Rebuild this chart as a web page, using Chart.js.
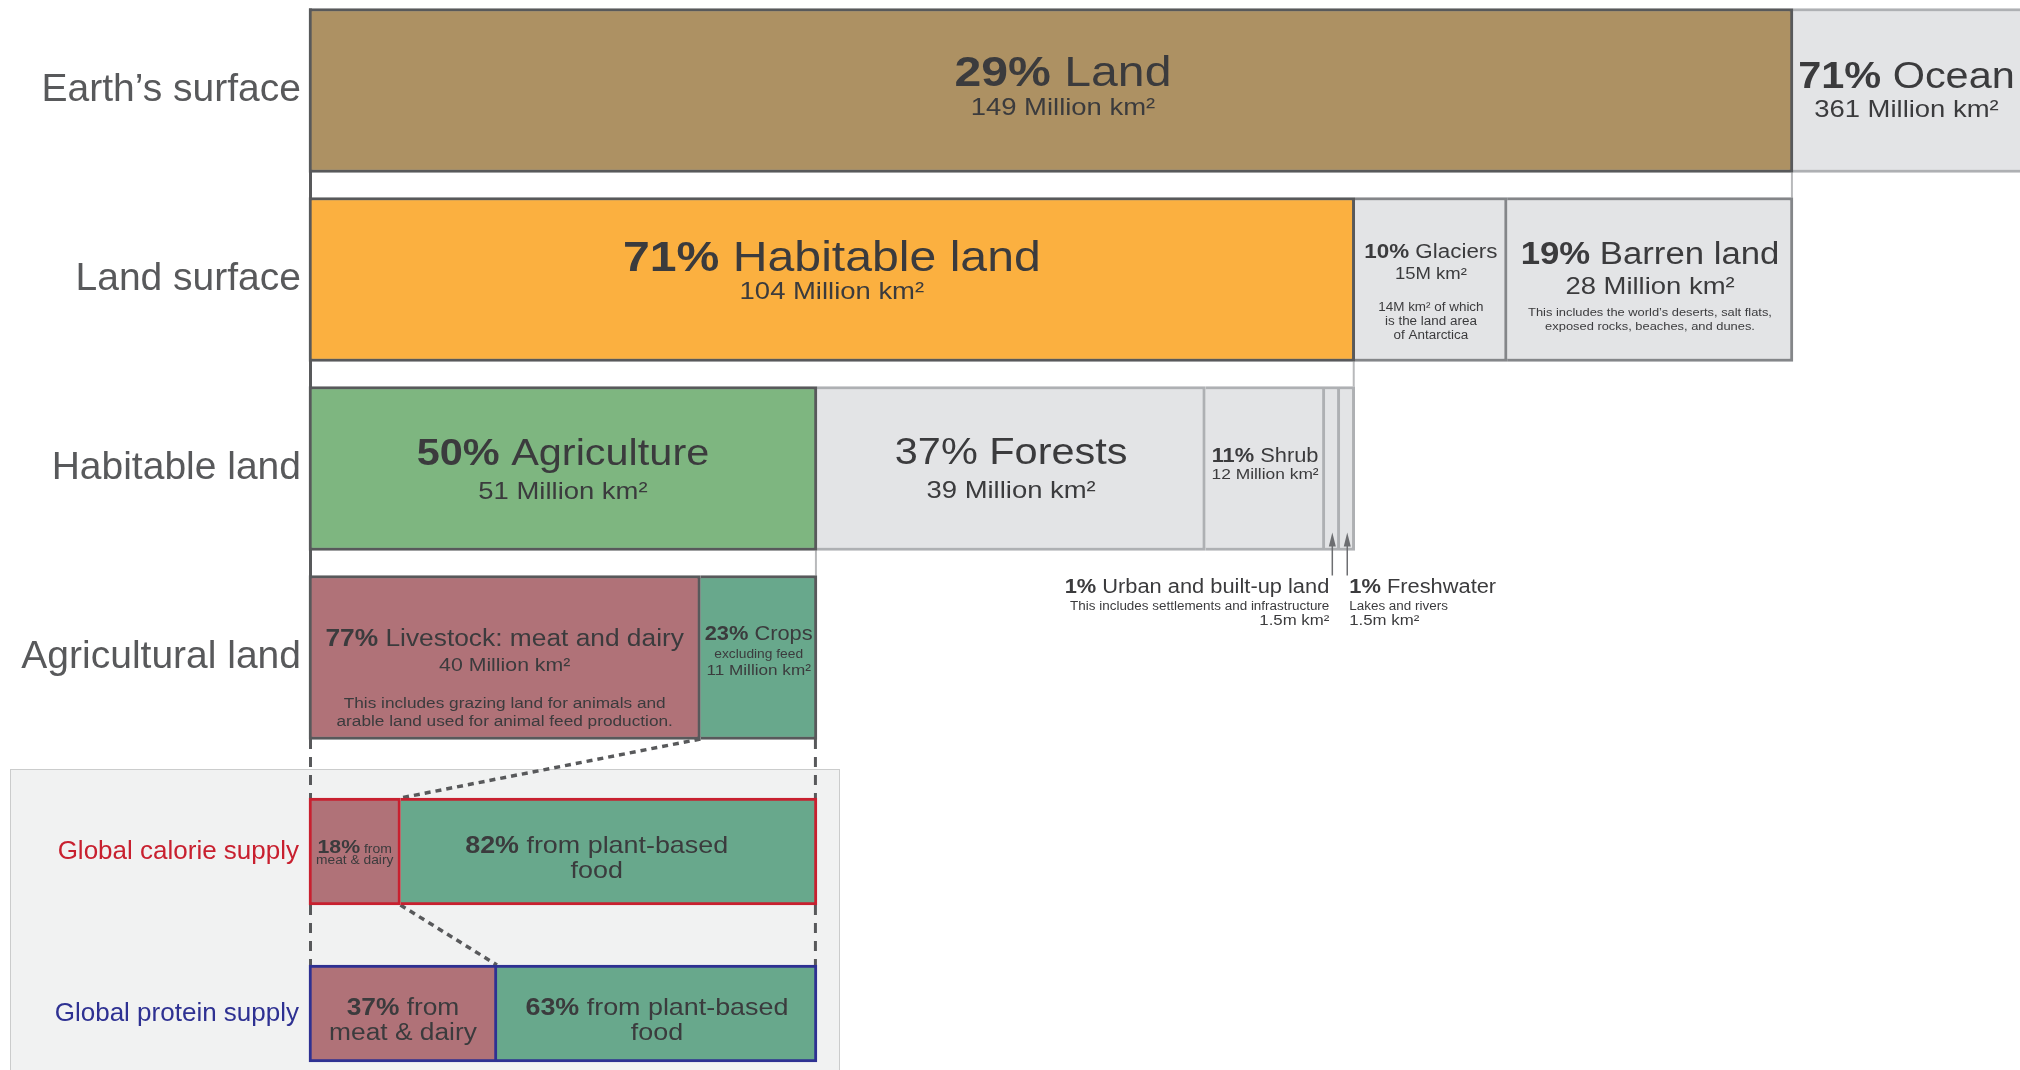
<!DOCTYPE html>
<html>
<head>
<meta charset="utf-8">
<title>Global land use for food production</title>
<script src="https://cdn.jsdelivr.net/npm/chart.js@4.4.1/dist/chart.umd.min.js"></script>
<style>
    html, body { margin: 0; padding: 0; background: #fff; overflow: hidden; }
    #page { position: relative; width: 2020px; height: 1070px; overflow: hidden; }
    #landChart { position: absolute; left: 0; top: -4px; }
    #supplyBox { position: absolute; left: 10px; top: 769px; width: 828px; height: 320px; background: #f1f2f2; border: 1px solid #cbcccc; }
    #supplyChart { position: absolute; left: 0; top: 739px; }
</style>
</head>
<body>
<div id="page">
    <canvas id="landChart" width="2020" height="756"></canvas>
    <div id="supplyBox"></div>
    <canvas id="supplyChart" width="2020" height="331"></canvas>
</div>
<script>
var landRows = ["Earth’s surface", "Land surface", "Habitable land", "Agricultural land"];

// million km²
var earthSurface = [149, 361];              // land, ocean
var landSurface = [105, 15.3, 28.7];        // habitable, glaciers, barren
var habitableLand = [51, 39, 12, 1.5, 1.5]; // agriculture, forests, shrub, urban, freshwater
var agriculturalLand = [39.3, 11.7];        // livestock, crops

// bottom panel, % of supply
var supplyRows = ["Global calorie supply", "Global protein supply"];
var calorieShare = [18, 82];                // meat & dairy, plant-based
var proteinShare = [37, 63];

var X_MAX = 171.8;
var FONT = "'Liberation Sans', Arial, sans-serif";
var SX = 1.12; // lettering in the original is a bit wider than Liberation Sans

var DARK = "#58595b", MID = "#848689", PALE = "#aeb0b3";
var GREY = "#e3e4e6", BROWN = "#ad9163", ORANGE = "#fbb040", GREEN = "#7eb680";
var ROSE = "#b07278", TEAL = "#68a88c", RED = "#c8202f", BLUE = "#2e3192";
var TEXT = "#3b3b3d";

Chart.defaults.font.family = FONT;

var agriTotal = agriculturalLand[0] + agriculturalLand[1];
function shareToArea(p) { return p / 100 * agriTotal; }

function L(dy, parts) { return { dy: dy, parts: parts }; }

function fontOf(size, bold) { return (bold ? "bold " : "") + size + "px " + FONT; }

function drawParts(ctx, parts, x, y, align) {
    var w = 0;
    parts.forEach(function (p) { ctx.font = fontOf(p[2], p[1]); w += ctx.measureText(p[0]).width * SX; });
    var sx = align === "left" ? x : (align === "right" ? x - w : x - w / 2);
    parts.forEach(function (p) {
        ctx.font = fontOf(p[2], p[1]);
        ctx.save();
        ctx.translate(sx, y);
        ctx.scale(SX, 1);
        ctx.textAlign = "left";
        ctx.textBaseline = "alphabetic";
        ctx.fillText(p[0], 0, 0);
        ctx.restore();
        sx += ctx.measureText(p[0]).width * SX;
    });
}

function stackedSets(rowCount, segments) {
    return segments.map(function (s) {
        var data = [];
        for (var i = 0; i < rowCount; i++) data.push(i === s.row ? s.value : null);
        return {
            label: s.label,
            data: data,
            row: s.row,
            backgroundColor: s.fill,
            borderColor: s.stroke,
            borderWidth: { top: 3, bottom: 3, right: 3, left: s.first ? 3 : 0 },
            borderSkipped: false,
            barThickness: s.thickness,
            clip: false,
            text: s.text,
            dx: s.dx || 0,
            callout: s.callout
        };
    });
}

function barBox(chart, i, row) {
    var p = chart.getDatasetMeta(i).data[row].getProps(["x", "y", "base", "height"], true);
    return { left: p.base, right: p.x, top: p.y - p.height / 2, bottom: p.y + p.height / 2, y: p.y };
}

// text inside the segments, plus the two arrow callouts
var segmentLabels = {
    id: "segmentLabels",
    afterDatasetsDraw: function (chart) {
        var ctx = chart.ctx, area = chart.chartArea;
        chart.data.datasets.forEach(function (ds, i) {
            var b = barBox(chart, i, ds.row);
            ctx.save();
            ctx.fillStyle = TEXT;
            if (ds.text) {
                var cx = (b.left + Math.min(b.right, area.right)) / 2 + ds.dx;
                ds.text.forEach(function (line) { drawParts(ctx, line.parts, cx, b.y + line.dy, "center"); });
            }
            if (ds.callout) {
                var ax = (b.left + b.right) / 2;
                ctx.strokeStyle = "#6d6e71";
                ctx.fillStyle = "#6d6e71";
                ctx.lineWidth = 1.5;
                ctx.beginPath();
                ctx.moveTo(ax, b.bottom + 25);
                ctx.lineTo(ax, b.bottom - 8);
                ctx.stroke();
                ctx.beginPath();
                ctx.moveTo(ax, b.bottom - 18);
                ctx.lineTo(ax - 3.5, b.bottom - 4);
                ctx.lineTo(ax + 3.5, b.bottom - 4);
                ctx.closePath();
                ctx.fill();
                ctx.fillStyle = TEXT;
                ds.callout.lines.forEach(function (line) {
                    drawParts(ctx, line.parts, ax + ds.callout.dx, b.bottom + line.dy, ds.callout.align);
                });
            }
            ctx.restore();
        });
    }
};

// spine on the left and thin guides from each parent segment to the row below
var landConnectors = {
    id: "landConnectors",
    beforeDatasetsDraw: function (chart) {
        var ctx = chart.ctx, xs = chart.scales.x;
        var firstOfRow = [];
        chart.data.datasets.forEach(function (ds, i) { if (firstOfRow[ds.row] === undefined) firstOfRow[ds.row] = i; });
        var boxes = firstOfRow.map(function (i, r) { return barBox(chart, i, r); });
        ctx.save();
        ctx.strokeStyle = DARK;
        ctx.lineWidth = 3;
        var x0 = xs.getPixelForValue(0) + 1.5;
        ctx.beginPath();
        ctx.moveTo(x0, boxes[0].top);
        ctx.lineTo(x0, boxes[boxes.length - 1].bottom);
        ctx.stroke();
        var parents = [earthSurface[0], landSurface[0], habitableLand[0]];
        ctx.strokeStyle = "#b8b9bb";
        ctx.lineWidth = 2;
        parents.forEach(function (v, r) {
            var x = xs.getPixelForValue(v) - 1;
            ctx.beginPath();
            ctx.moveTo(x, boxes[r].bottom);
            ctx.lineTo(x, boxes[r + 1].top);
            ctx.stroke();
        });
        ctx.restore();
    }
};

// dashed zoom lines from agricultural land into the supply bars
var supplyConnectors = {
    id: "supplyConnectors",
    beforeDatasetsDraw: function (chart) {
        var ctx = chart.ctx, xs = chart.scales.x;
        var cal = barBox(chart, 0, 0), pro = barBox(chart, 2, 1);
        var x0 = xs.getPixelForValue(0) + 1.5, x1 = xs.getPixelForValue(agriTotal) - 1.5;
        var xLive = xs.getPixelForValue(agriculturalLand[0]);
        function seg(ax, ay, bx, by) { ctx.beginPath(); ctx.moveTo(ax, ay); ctx.lineTo(bx, by); ctx.stroke(); }
        ctx.save();
        ctx.strokeStyle = DARK;
        ctx.lineWidth = 3;
        ctx.setLineDash([10, 8]);
        [x0, x1].forEach(function (x) {
            seg(x, 0, x, cal.top);
            seg(x, cal.bottom, x, pro.top);
        });
        ctx.lineWidth = 3.5;
        ctx.setLineDash([6, 5]);
        seg(xLive, 0, cal.right, cal.top);
        seg(cal.right, cal.bottom, pro.right, pro.top);
        ctx.restore();
    }
};

var landSegments = [
    { label: "Land", row: 0, value: earthSurface[0], fill: BROWN, stroke: DARK, first: true, dx: 12,
      text: [L(-5, [["29%", 1, 43], [" Land", 0, 43]]), L(24, [["149 Million km²", 0, 24.5]])] },
    { label: "Ocean", row: 0, value: earthSurface[1], fill: GREY, stroke: PALE,
      text: [L(-3, [["71%", 1, 37], [" Ocean", 0, 37]]), L(26, [["361 Million km²", 0, 24.5]])] },
    { label: "Habitable land", row: 1, value: landSurface[0], fill: ORANGE, stroke: DARK, first: true,
      text: [L(-9, [["71%", 1, 43], [" Habitable land", 0, 43]]), L(19, [["104 Million km²", 0, 24.5]])] },
    { label: "Glaciers", row: 1, value: landSurface[1], fill: GREY, stroke: MID,
      text: [L(-22, [["10%", 1, 20], [" Glaciers", 0, 20]]), L(-1, [["15M km²", 0, 16.5]]),
             L(31, [["14M km² of which", 0, 12]]), L(45, [["is the land area", 0, 12]]), L(59, [["of Antarctica", 0, 12]])] },
    { label: "Barren land", row: 1, value: landSurface[2], fill: GREY, stroke: MID,
      text: [L(-16, [["19%", 1, 31], [" Barren land", 0, 31]]), L(14, [["28 Million km²", 0, 24.5]]),
             L(36, [["This includes the world’s deserts, salt flats,", 0, 11.5]]),
             L(50, [["exposed rocks, beaches, and dunes.", 0, 11.5]])] },
    { label: "Agriculture", row: 2, value: habitableLand[0], fill: GREEN, stroke: DARK, first: true,
      text: [L(-4, [["50%", 1, 37], [" Agriculture", 0, 37]]), L(30, [["51 Million km²", 0, 24.5]])] },
    { label: "Forests", row: 2, value: habitableLand[1], fill: GREY, stroke: PALE,
      text: [L(-5, [["37% Forests", 0, 37]]), L(29, [["39 Million km²", 0, 24.5]])] },
    { label: "Shrub", row: 2, value: habitableLand[2], fill: GREY, stroke: PALE,
      text: [L(-7, [["11%", 1, 19.5], [" Shrub", 0, 19.5]]), L(10, [["12 Million km²", 0, 15.5]])] },
    { label: "Urban and built-up land", row: 2, value: habitableLand[3], fill: GREY, stroke: PALE,
      callout: { align: "right", dx: -3, lines: [
          L(42, [["1%", 1, 19.5], [" Urban and built-up land", 0, 19.5]]),
          L(59, [["This includes settlements and infrastructure", 0, 12]]),
          L(74, [["1.5m km²", 0, 15]])] } },
    { label: "Freshwater", row: 2, value: habitableLand[4], fill: GREY, stroke: PALE,
      callout: { align: "left", dx: 2, lines: [
          L(42, [["1%", 1, 19.5], [" Freshwater", 0, 19.5]]),
          L(59, [["Lakes and rivers", 0, 12]]),
          L(74, [["1.5m km²", 0, 15]])] } },
    { label: "Livestock: meat and dairy", row: 3, value: agriculturalLand[0], fill: ROSE, stroke: DARK, first: true,
      text: [L(-12, [["77%", 1, 23.5], [" Livestock: meat and dairy", 0, 23.5]]), L(13, [["40 Million km²", 0, 19]]),
             L(50, [["This includes grazing land for animals and", 0, 15.4]]),
             L(68, [["arable land used for animal feed production.", 0, 15.4]])] },
    { label: "Crops", row: 3, value: agriculturalLand[1], fill: TEAL, stroke: DARK,
      text: [L(-18, [["23%", 1, 19.5], [" Crops", 0, 19.5]]), L(0, [["excluding feed", 0, 12.3]]),
             L(17, [["11 Million km²", 0, 15.3]])] }
];
landSegments.forEach(function (s) { s.thickness = 164; });

var supplySegments = [
    { label: "Calories from meat & dairy", row: 0, value: shareToArea(calorieShare[0]), fill: ROSE, stroke: RED, first: true, thickness: 107,
      text: [L(1.5, [["18%", 1, 19], [" from", 0, 12.5]]), L(12.5, [["meat & dairy", 0, 12.3]])] },
    { label: "Calories from plant-based food", row: 0, value: shareToArea(calorieShare[1]), fill: TEAL, stroke: RED, thickness: 107, dx: -12,
      text: [L(1, [["82%", 1, 24], [" from plant-based", 0, 24]]), L(26.5, [["food", 0, 24]])] },
    { label: "Protein from meat & dairy", row: 1, value: shareToArea(proteinShare[0]), fill: ROSE, stroke: BLUE, first: true, thickness: 97,
      text: [L(1.5, [["37%", 1, 23.5], [" from", 0, 23.5]]), L(26.5, [["meat & dairy", 0, 23.5]])] },
    { label: "Protein from plant-based food", row: 1, value: shareToArea(proteinShare[1]), fill: TEAL, stroke: BLUE, thickness: 97,
      text: [L(1.5, [["63%", 1, 24], [" from plant-based", 0, 24]]), L(26.5, [["food", 0, 24]])] }
];

function baseOptions(yTicks, yOffset, padding) {
    return {
        indexAxis: "y",
        responsive: false,
        animation: false,
        events: [],
        layout: { padding: padding },
        plugins: { legend: { display: false }, tooltip: { enabled: false } },
        scales: {
            x: { type: "linear", stacked: true, min: 0, max: X_MAX, display: false },
            y: {
                stacked: true,
                offset: yOffset,
                grid: { display: false, drawTicks: false },
                border: { display: false },
                ticks: yTicks,
                afterFit: function (scale) {
                    scale.width = 309;
                    scale.paddingTop = 0;
                    scale.paddingBottom = 0;
                }
            }
        }
    };
}

new Chart(document.getElementById("landChart"), {
    type: "bar",
    data: { labels: landRows, datasets: stackedSets(landRows.length, landSegments) },
    options: baseOptions({ padding: 8, color: DARK, font: { size: 39 } }, true, 0),
    plugins: [landConnectors, segmentLabels]
});

new Chart(document.getElementById("supplyChart"), {
    type: "bar",
    data: { labels: supplyRows, datasets: stackedSets(supplyRows.length, supplySegments) },
    options: baseOptions({
        padding: 10,
        font: { size: 26 },
        color: function (c) { return c.index === 0 ? RED : BLUE; }
    }, false, { top: 112.5, bottom: 56.5 }),
    plugins: [supplyConnectors, segmentLabels]
});
</script>
</body>
</html>
